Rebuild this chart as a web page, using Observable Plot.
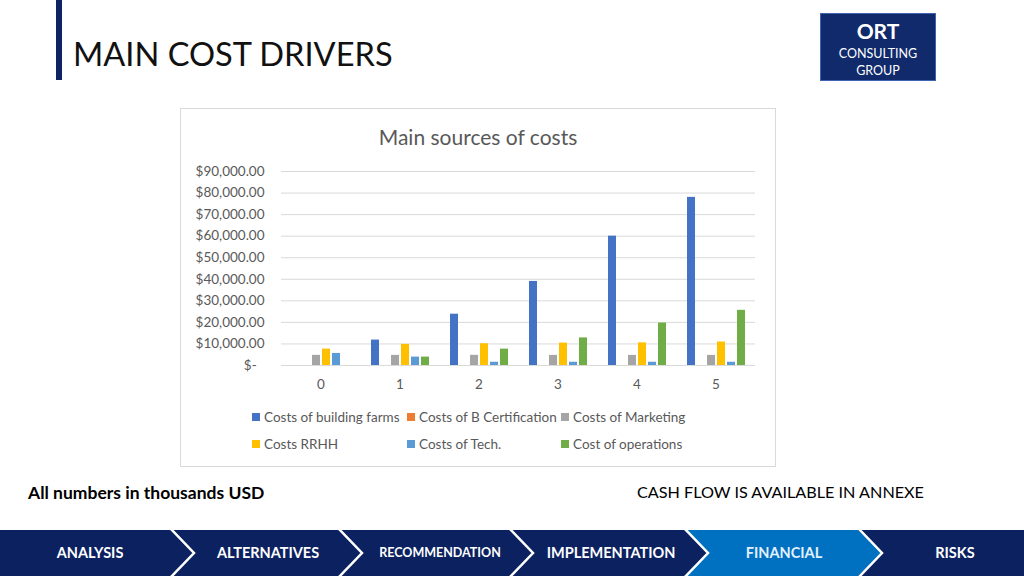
<!DOCTYPE html>
<html>
<head>
<meta charset="utf-8">
<script src="https://cdn.jsdelivr.net/npm/d3@7"></script>
<script src="https://cdn.jsdelivr.net/npm/@observablehq/plot@0.6"></script>
<style>
  html, body { margin: 0; padding: 0; background: #fff; }
  #page { position: relative; width: 1024px; height: 576px; overflow: hidden; font-family: Lato, "Open Sans", sans-serif; }
  .abs { position: absolute; }
  #accent { left: 56px; top: 0; width: 6px; height: 80px; background: #0f2363; }
  #title { left: 73px; top: 38px; font-size: 32.6px; color: #111; white-space: nowrap; line-height: 1; }
  #logo { left: 820px; top: 13px; width: 114px; height: 66px; background: #102a6c; border: 1px solid #3f63b0; color: #fff; text-align: center; }
  #logo .ort { position: absolute; left: 0; right: 0; top: 6px; font-size: 21px; font-weight: 700; line-height: 1; }
  #logo .sub { position: absolute; left: 0; right: 0; font-size: 12.5px; line-height: 1; }
  #chartbox { left: 180px; top: 108px; width: 594px; height: 357px; border: 1px solid #d9d9d9; }
  #ctitle { left: 180px; top: 126px; width: 596px; text-align: center; font-size: 21px; color: #595959; line-height: 1; }
  #plot { left: 180px; top: 160px; }
  .leg { position: absolute; font-size: 13.5px; color: #595959; white-space: nowrap; line-height: 1; }
  .leg span.sw { display: inline-block; width: 8px; height: 8px; margin-right: 4px; vertical-align: 1px; }
  #note1 { left: 28px; top: 484px; font-size: 17.5px; font-weight: 700; color: #000; line-height: 1; }
  #note2 { left: 637px; top: 484px; font-size: 16.2px; color: #000; line-height: 1; }
  #nav { left: 0; top: 530px; }
</style>
</head>
<body>
<div id="page">
  <div id="accent" class="abs"></div>
  <div id="title" class="abs">MAIN COST DRIVERS</div>
  <div id="logo" class="abs">
    <div class="ort">ORT</div>
    <div class="sub" style="top:34px">CONSULTING</div>
    <div class="sub" style="top:51px">GROUP</div>
  </div>
  <div id="chartbox" class="abs"></div>
  <div id="ctitle" class="abs">Main sources of costs</div>
  <div id="plot" class="abs"></div>
  <div id="legend"></div>
  <div id="note1" class="abs">All numbers in thousands USD</div>
  <div id="note2" class="abs">CASH FLOW IS AVAILABLE IN ANNEXE</div>
  <svg id="nav" class="abs" width="1024" height="46"></svg>
</div>
<script>
// ---- data ----
const years = [0, 1, 2, 3, 4, 5];
const seriesNames = ["Costs of building farms", "Costs of B Certification", "Costs of Marketing", "Costs RRHH", "Costs of Tech.", "Cost of operations"];
const buildingFarms = [0, 11800, 23800, 39000, 60000, 78000];
const bCertification = [0, 0, 0, 0, 0, 0];
const marketing = [4700, 4700, 4700, 4700, 4700, 4700];
const rrhh = [7600, 9800, 10100, 10400, 10500, 10900];
const tech = [5600, 3900, 1500, 1500, 1500, 1500];
const operations = [0, 3900, 7600, 12800, 19700, 25600];
const seriesColors = ["#4472C4", "#ED7D31", "#A5A5A5", "#FFC000", "#5B9BD5", "#70AD47"];
const yTicks = [0, 10000, 20000, 30000, 40000, 50000, 60000, 70000, 80000, 90000];
const navLabels = ["ANALYSIS", "ALTERNATIVES", "RECOMMENDATION", "IMPLEMENTATION", "FINANCIAL", "RISKS"];
const navActive = "FINANCIAL";

const seriesValues = [buildingFarms, bCertification, marketing, rrhh, tech, operations];
const data = years.flatMap((yr, i) => seriesNames.map((s, j) => ({year: yr, series: s, value: seriesValues[j][i]})));

const fmt = d => d === 0 ? "$-\u2007" : "$" + d3.format(",.2f")(d);

const chart = Plot.plot({
  width: 596,
  height: 235,
  marginLeft: 100,
  marginRight: 20,
  marginTop: 11,
  marginBottom: 30,
  style: {fontFamily: "Lato, 'Open Sans', sans-serif", fontSize: "13.5px", color: "#595959", background: "transparent"},
  facet: {data, x: "year"},
  fx: {domain: years, padding: 0, label: null, tickSize: 0, tickPadding: 14},
  x: {domain: seriesNames, paddingInner: 0.22, paddingOuter: 0.83, axis: null},
  y: {domain: [0, 90000], ticks: yTicks, tickFormat: fmt, tickSize: 0, tickPadding: 17, label: null},
  color: {domain: seriesNames, range: seriesColors},
  marks: [
    Plot.ruleY(yTicks, {stroke: "#d9d9d9", strokeWidth: 1}),
    Plot.barY(data, {x: "series", y: "value", fill: "series"})
  ]
});
chart.querySelectorAll("text").forEach(t => t.setAttribute("fill", "#595959"));
document.getElementById("plot").appendChild(chart);

// legend
const legPos = [[252, 411], [407, 411], [561, 411], [252, 438], [407, 438], [561, 438]];
const legend = document.getElementById("legend");
seriesNames.forEach((s, i) => {
  const d = document.createElement("div");
  d.className = "leg";
  d.style.left = legPos[i][0] + "px";
  d.style.top = legPos[i][1] + "px";
  d.innerHTML = `<span class="sw" style="background:${seriesColors[i]}"></span>${s}`;
  legend.appendChild(d);
});

// nav bar
const nav = d3.select("#nav");
const points = [194, 362, 533, 708, 882];
const depth = 24;
nav.append("rect").attr("width", 1024).attr("height", 46).attr("fill", "#0b2160");
const edges = [null, ...points, null];
const ai = navLabels.indexOf(navActive);
{
  const l = edges[ai], r = edges[ai + 1];
  nav.append("polygon")
    .attr("points", `${l - depth},0 ${l},23 ${l - depth},46 ${r - depth},46 ${r},23 ${r - depth},0`)
    .attr("fill", "#0070C0");
}
points.forEach(p => {
  nav.append("polyline").attr("points", `${p - depth},-2 ${p},23 ${p - depth},48`)
    .attr("fill", "none").attr("stroke", "#fff").attr("stroke-width", 2.5);
});
const centers = [90, 268, 440, 611, 784, 955];
navLabels.forEach((lab, i) => {
  nav.append("text").attr("x", centers[i]).attr("y", 23).attr("dy", "0.35em")
    .attr("text-anchor", "middle")
    .attr("font-family", "Lato, 'Open Sans', sans-serif")
    .attr("font-weight", 700)
    .attr("font-size", lab === "RECOMMENDATION" ? 12.5 : 14.5)
    .attr("fill", lab === navActive ? "#e2f0ff" : "#fff")
    .text(lab);
});
</script>
</body>
</html>
